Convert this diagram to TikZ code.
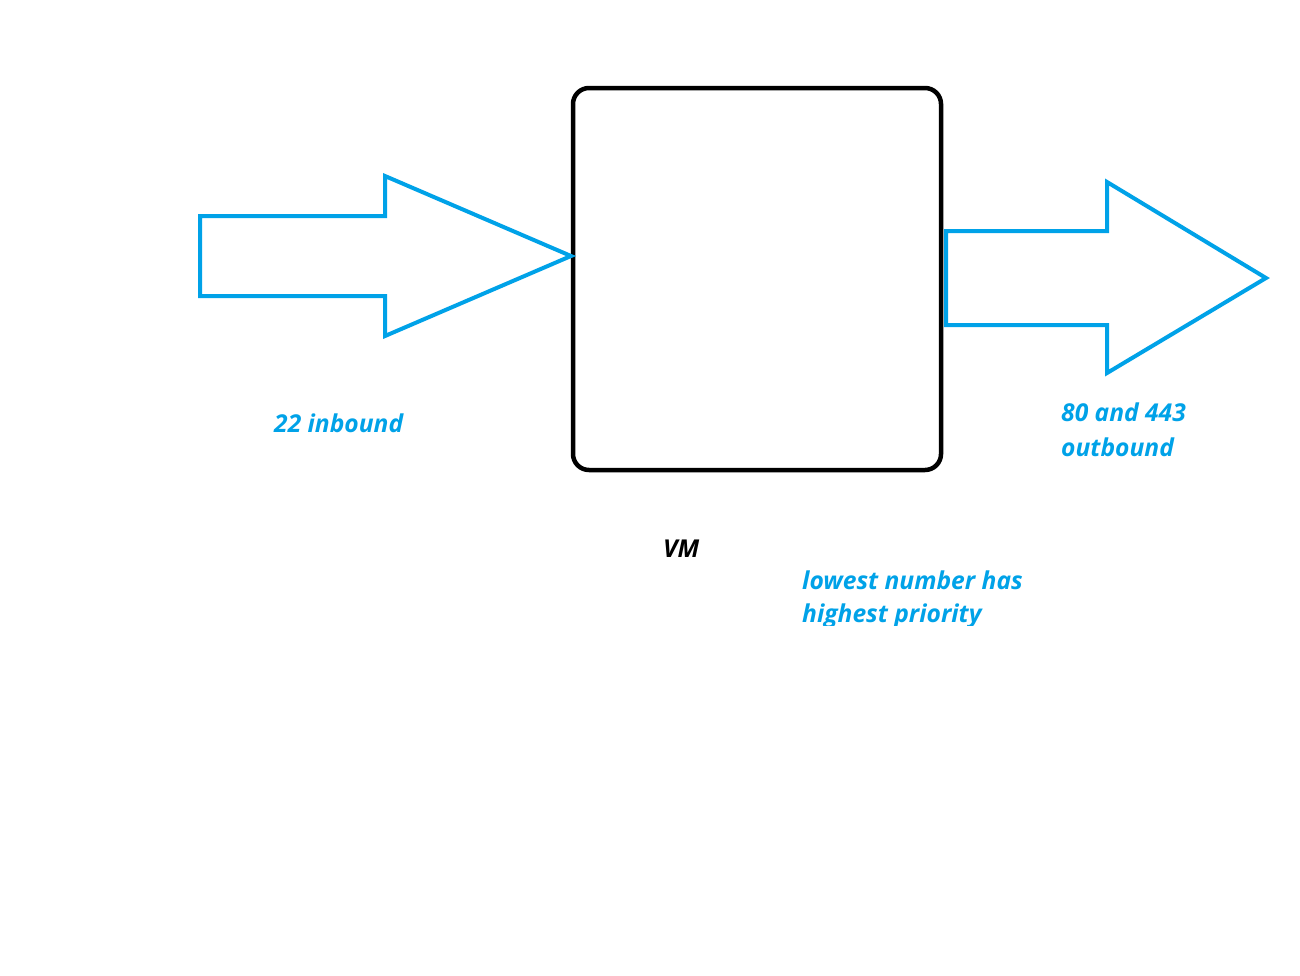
\documentclass[tikz,border=0pt]{standalone}
\usepackage{fontspec}
\setmainfont{Open Sans}
\definecolor{pblue}{HTML}{00A2E8}
\begin{document}
\begin{tikzpicture}[x=1pt,y=-1pt,
  arrowshape/.style={draw=pblue,line width=4pt,line join=miter},
  lbl/.style={font=\fontsize{24.6}{30}\selectfont\bfseries\itshape,anchor=base west,inner sep=0pt,text=pblue}]
\useasboundingbox (0,0) rectangle (1300,975);
\fill[white] (0,0) rectangle (1300,975);
\draw[line width=4.5pt,rounded corners=16pt] (573,88) rectangle (941,470);
\node[coordinate] (vmleft) at (571,256) {};
\draw[arrowshape] (200,216) -- (385,216) -- (385,176) -- (vmleft) -- (385,336) -- (385,296) -- (200,296) -- cycle;
\draw[arrowshape] (946,231) -- (1107,231) -- (1107,182) -- (1266,278) -- (1107,373) -- (1107,325) -- (946,325) -- cycle;
\node[lbl] (in) at (274,432) {22 inbound};
\node[lbl] (out1) at (1061,421) {80 and 443};
\node[lbl] (out2) at (1061,456) {outbound};
\node[lbl,text=black] (vm) at (663,557) {VM};
\node[lbl] (low1) at (802,589) {lowest number has};
\begin{scope}
\clip (780,600) rectangle (1100,625);
\node[lbl] (low2) at (802,622) {highest priority};
\end{scope}
\end{tikzpicture}
\end{document}
